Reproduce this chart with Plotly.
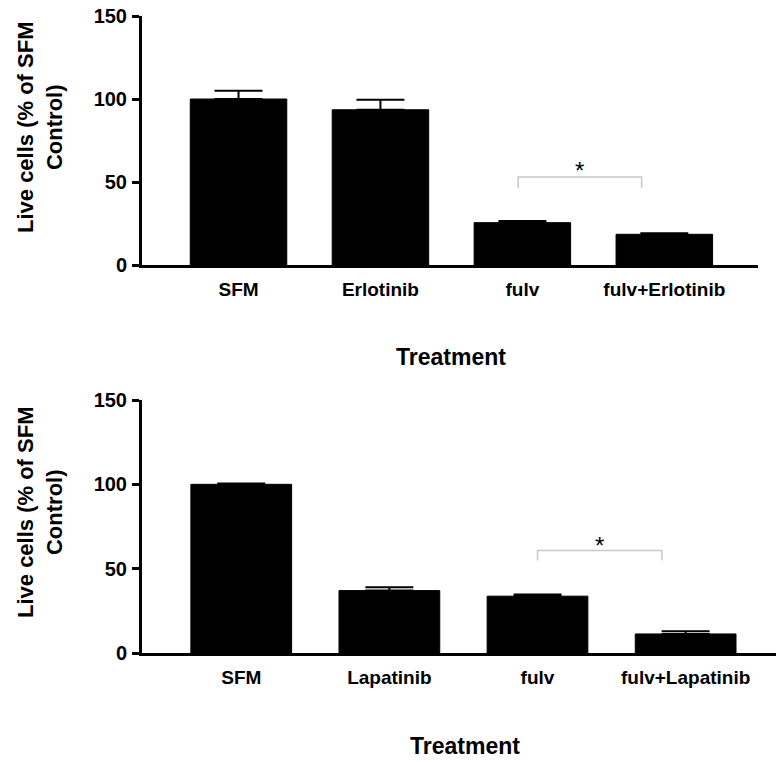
import plotly.graph_objects as go

# Data
cats_top = ["SFM", "Erlotinib", "fulv", "fulv+Erlotinib"]
vals_top = [100, 93.5, 25.5, 18.5]
err_top = [5, 6, 1, 0.7]

cats_bot = ["SFM", "Lapatinib", "fulv", "fulv+Lapatinib"]
vals_bot = [100, 37, 33.7, 11.3]
err_bot = [0.5, 2, 1, 1.6]

y_ticks = [0, 50, 100, 150]
y_title = "Live cells (% of SFM<br>Control)"
x_title = "Treatment"

W, H = 776, 762
FONT = "Liberation Sans, Arial, sans-serif"

fig = go.Figure()

fig.add_trace(go.Bar(x=cats_top, y=vals_top, xaxis="x", yaxis="y",
                     marker=dict(color="black", line=dict(color="black", width=1)),
                     width=0.68,
                     error_y=dict(type="data", array=err_top, arrayminus=[0]*4,
                                  color="black", thickness=2, width=24),
                     showlegend=False))
fig.add_trace(go.Bar(x=cats_bot, y=vals_bot, xaxis="x2", yaxis="y2",
                     marker=dict(color="black", line=dict(color="black", width=1)),
                     width=0.68,
                     error_y=dict(type="data", array=err_bot, arrayminus=[0]*4,
                                  color="black", thickness=2, width=24),
                     showlegend=False))

def px_x(p):
    return p / W

def px_y(p):
    return 1 - p / H

axis_common = dict(showgrid=False, zeroline=False, showline=True,
                   linecolor="black", linewidth=3, automargin=False)
xtickfont = dict(size=19, family=FONT, weight="bold")
ytickfont = dict(size=20, family=FONT, weight="bold")

fig.update_layout(
    width=W, height=H,
    autosize=False,
    margin=dict(l=0, r=0, t=0, b=0, pad=0, autoexpand=False),
    paper_bgcolor="white", plot_bgcolor="white",
    font=dict(family=FONT, color="black"),
    xaxis=dict(domain=[px_x(142), px_x(758)], range=[-0.68, 3.66],
               anchor="y", ticks="", tickfont=xtickfont,
               ticklabelstandoff=5, **axis_common),
    yaxis=dict(domain=[px_y(265), px_y(16)], range=[0, 150], anchor="x",
               tickvals=y_ticks, ticks="outside", ticklen=7, tickwidth=3,
               tickcolor="black", tickfont=ytickfont, ticklabelstandoff=1,
               **axis_common),
    xaxis2=dict(domain=[px_x(142), 1.0], range=[-0.67, 3.61],
                anchor="y2", ticks="", tickfont=xtickfont,
                ticklabelstandoff=5, **axis_common),
    yaxis2=dict(domain=[px_y(653), px_y(400)], range=[0, 150], anchor="x2",
                tickvals=y_ticks, ticks="outside", ticklen=7, tickwidth=3,
                tickcolor="black", tickfont=ytickfont, ticklabelstandoff=1,
                **axis_common),
)

# significance brackets (data coords)
def bracket(xref, yref, x0, x1, ytop, yend, star_y):
    fig.add_shape(type="path",
                  path=f"M {x0} {yend} L {x0} {ytop} L {x1} {ytop} L {x1} {yend}",
                  xref=xref, yref=yref, line=dict(color="#c8c8c8", width=1.5))
    fig.add_annotation(x=(x0 + x1) / 2, y=star_y, xref=xref, yref=yref,
                       text="*", showarrow=False, xanchor="center", yanchor="middle",
                       font=dict(size=24, family=FONT, color="black"))

bracket("x", "y", 1.97, 2.84, 53, 46.4, 57)
bracket("x2", "y2", 2.0, 2.84, 60.8, 54.8, 64)

# axis titles
for (xc, yc) in [(40, 127), (40, 512)]:
    fig.add_annotation(x=px_x(xc), y=px_y(yc), xref="paper", yref="paper",
                       text=f"<b>{y_title}</b>", textangle=-90, showarrow=False,
                       xanchor="center", yanchor="middle",
                       font=dict(size=22, family=FONT, color="black"),
                       align="center")
for (xc, yc) in [(451, 357), (465, 746)]:
    fig.add_annotation(x=px_x(xc), y=px_y(yc), xref="paper", yref="paper",
                       text=f"<b>{x_title}</b>", showarrow=False,
                       xanchor="center", yanchor="middle",
                       font=dict(size=23, family=FONT, color="black"))

fig.write_html("out.html", config={"displayModeBar": False},
               post_script="document.body.style.margin='0';document.body.style.overflow='hidden';")
